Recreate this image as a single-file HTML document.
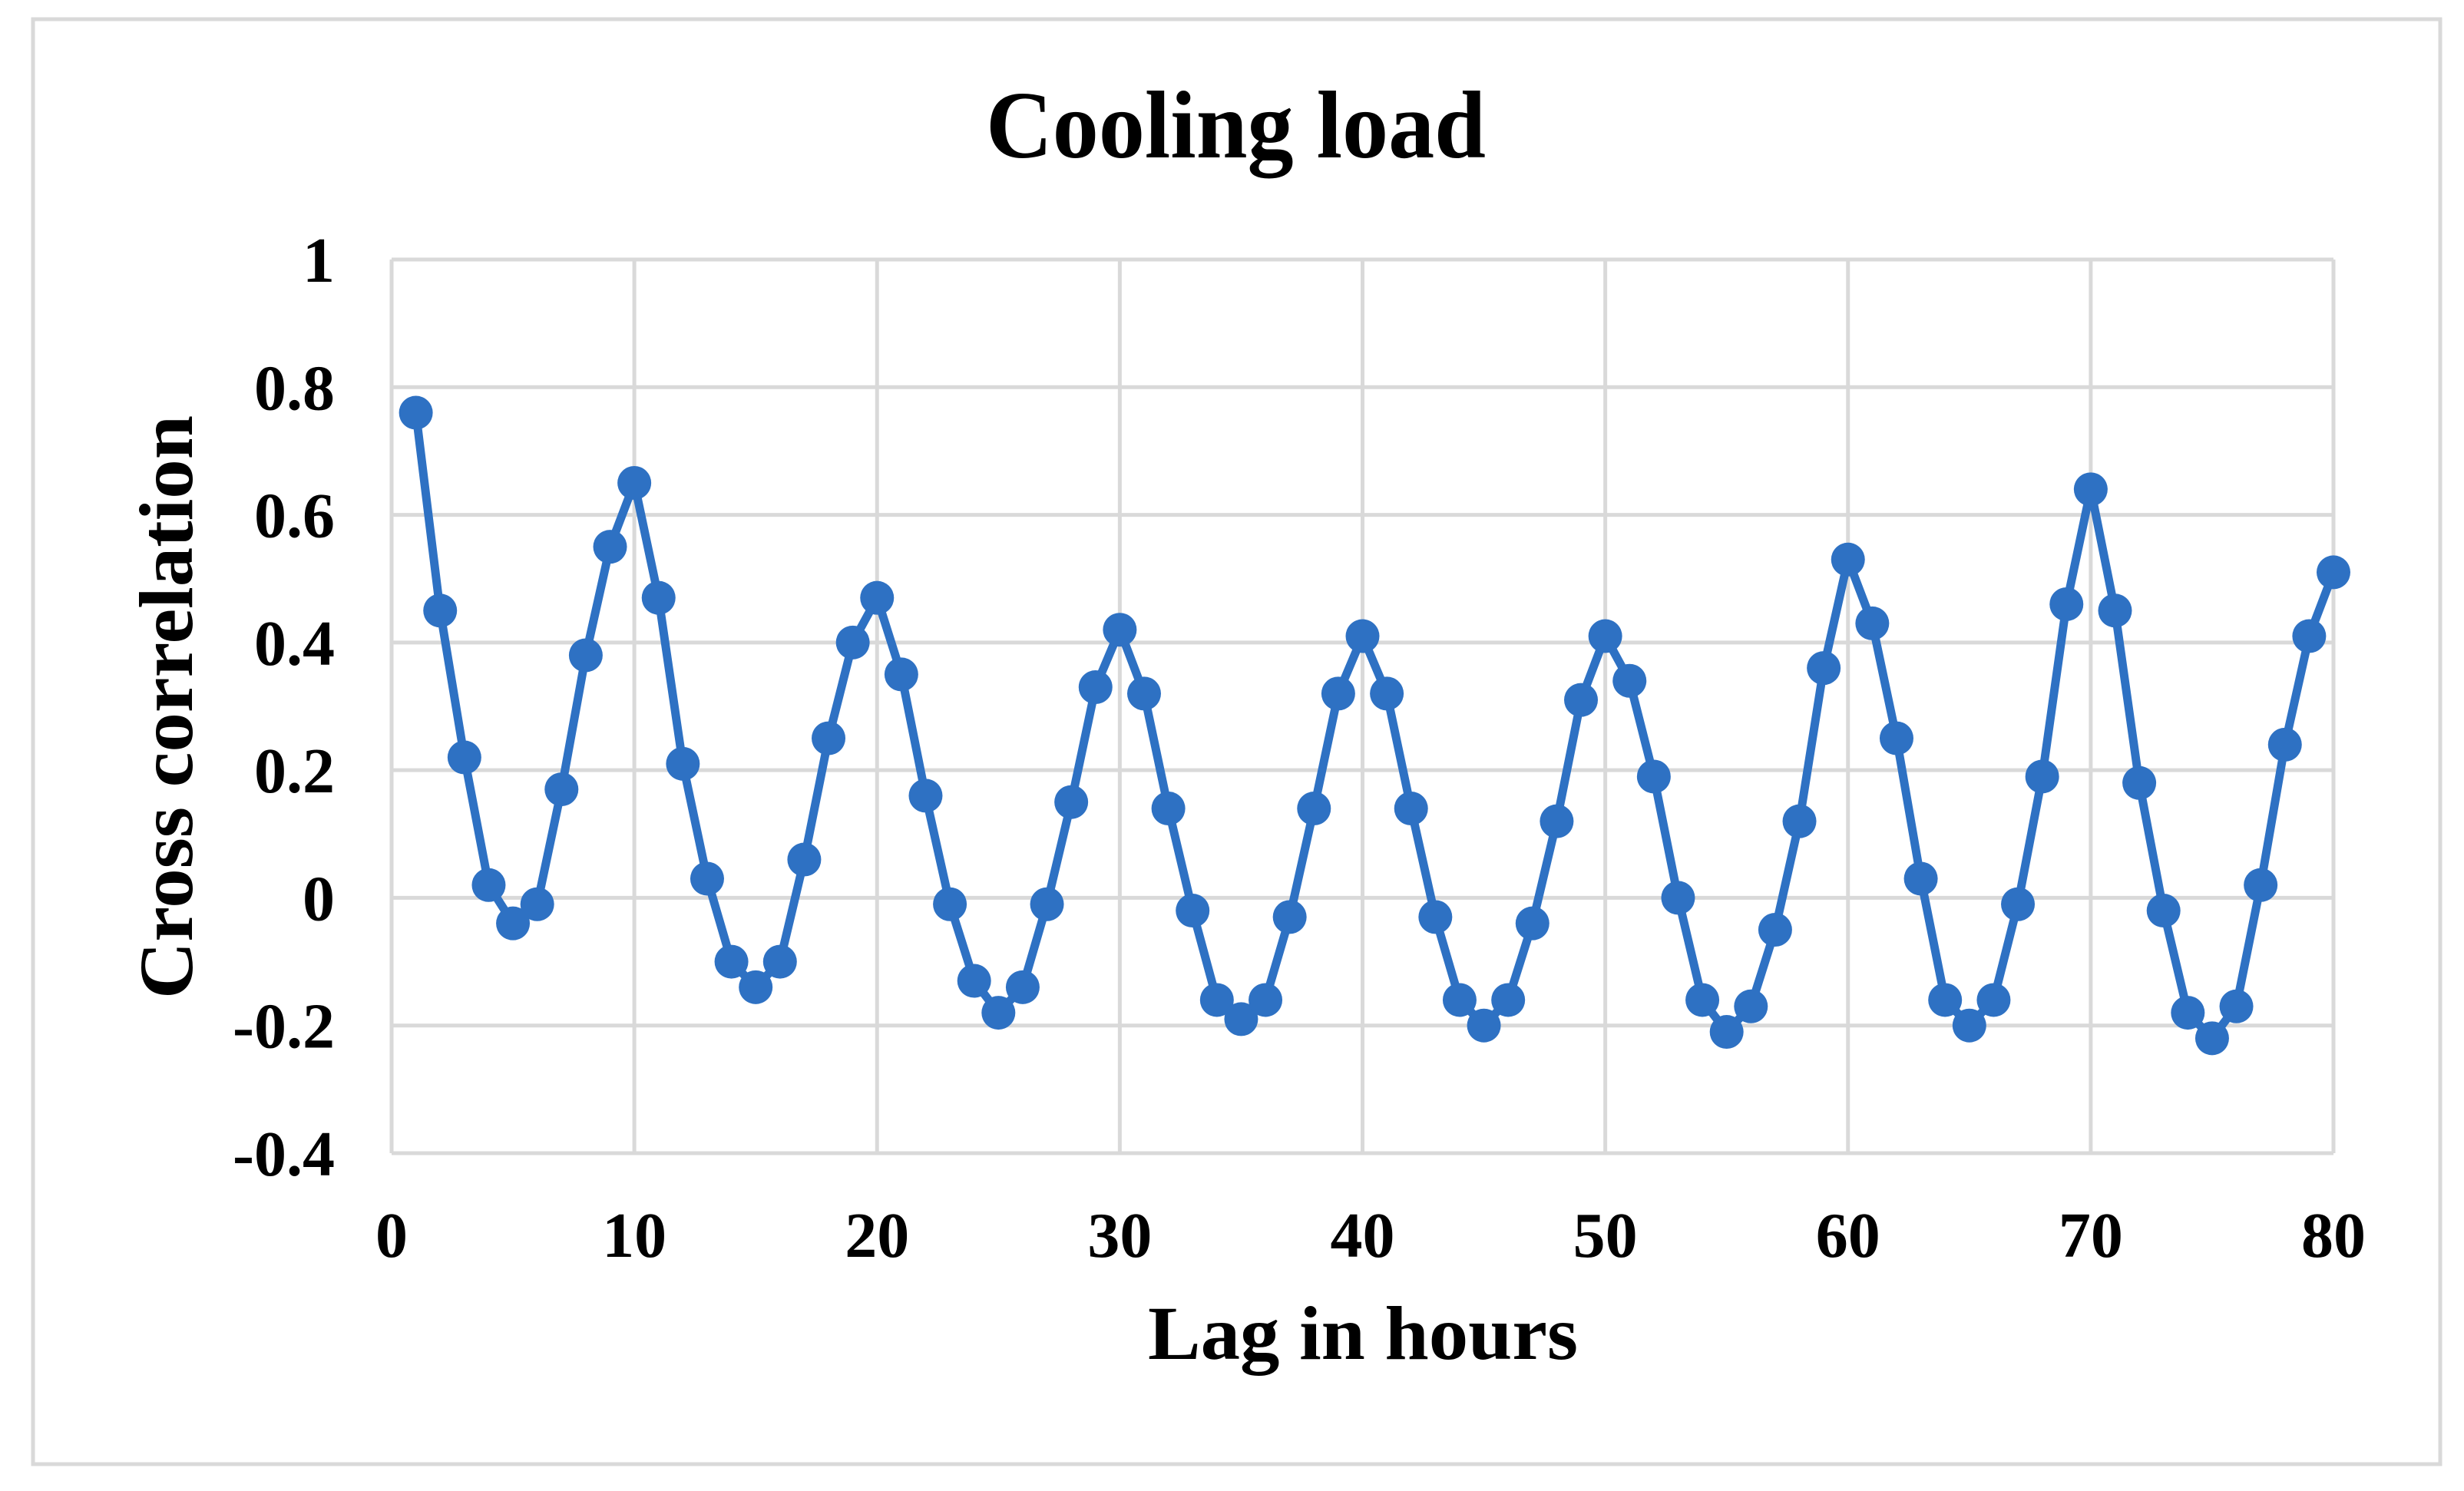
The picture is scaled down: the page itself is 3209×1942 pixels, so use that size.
<!DOCTYPE html>
<html><head><meta charset="utf-8"><style>
html,body{margin:0;padding:0;background:#fff;}
svg{display:block;}
text{font-family:"Liberation Serif","Times New Roman",serif;font-weight:bold;fill:#000;}
</style></head><body>
<svg id="chart" width="3209" height="1942" viewBox="0 0 3209 1942" xmlns="http://www.w3.org/2000/svg">
<rect x="43" y="25" width="3135" height="1882" fill="#fff" stroke="#d9d9d9" stroke-width="5"/>
<text x="1284" y="205" font-size="125" textLength="651" lengthAdjust="spacingAndGlyphs">Cooling load</text>
<g id="grid"></g>
<g id="yticks"></g>
<g id="xticks"></g>
<g id="series"></g>
<text x="1775" y="1770" font-size="100" text-anchor="middle" textLength="560" lengthAdjust="spacingAndGlyphs">Lag in hours</text>
<text transform="translate(250,921) rotate(-90)" x="0" y="0" font-size="100" text-anchor="middle" textLength="760" lengthAdjust="spacingAndGlyphs">Cross correlation</text>
</svg>
<script>
const lags = [1,2,3,4,5,6,7,8,9,10,11,12,13,14,15,16,17,18,19,20,21,22,23,24,25,26,27,28,29,30,31,32,33,34,35,36,37,38,39,40,41,42,43,44,45,46,47,48,49,50,51,52,53,54,55,56,57,58,59,60,61,62,63,64,65,66,67,68,69,70,71,72,73,74,75,76,77,78,79,80];
const values = [0.76,0.45,0.22,0.02,-0.04,-0.01,0.17,0.38,0.55,0.65,0.47,0.21,0.03,-0.10,-0.14,-0.10,0.06,0.25,0.40,0.47,0.35,0.16,-0.01,-0.13,-0.18,-0.14,-0.01,0.15,0.33,0.42,0.32,0.14,-0.02,-0.16,-0.19,-0.16,-0.03,0.14,0.32,0.41,0.32,0.14,-0.03,-0.16,-0.20,-0.16,-0.04,0.12,0.31,0.41,0.34,0.19,0.00,-0.16,-0.21,-0.17,-0.05,0.12,0.36,0.53,0.43,0.25,0.03,-0.16,-0.20,-0.16,-0.01,0.19,0.46,0.64,0.45,0.18,-0.02,-0.18,-0.22,-0.17,0.02,0.24,0.41,0.51];
const yTicks = [1,0.8,0.6,0.4,0.2,0,-0.2,-0.4];
const yTickLabels = ["1","0.8","0.6","0.4","0.2","0","-0.2","-0.4"];
const xTicks = [0,10,20,30,40,50,60,70,80];
const xTickLabels = ["0","10","20","30","40","50","60","70","80"];

const NS = "http://www.w3.org/2000/svg";
const L = 510, R = 3039, T = 338, B = 1502;
const xMin = 0, xMax = 80, yMin = -0.4, yMax = 1;
function xs(v){ return L + (v - xMin) / (xMax - xMin) * (R - L); }
function ys(v){ return B - (v - yMin) / (yMax - yMin) * (B - T); }
function mk(tag, attrs, parent){ const e = document.createElementNS(NS, tag); for (const k in attrs) e.setAttribute(k, attrs[k]); parent.appendChild(e); return e; }

const grid = document.getElementById('grid');
const yt = document.getElementById('yticks');
const xt = document.getElementById('xticks');
const ser = document.getElementById('series');

yTicks.forEach((v, i) => {
  const g = mk('line', {x1: L, x2: R, y1: ys(v), y2: ys(v), stroke: '#d9d9d9', 'stroke-width': 5}, grid);
  
  
  const t = mk('text', {x: 436, y: ys(v) + 29, 'font-size': 84, 'text-anchor': 'end'}, yt);
  t.textContent = yTickLabels[i];
  
  
});
xTicks.forEach((v, i) => {
  const g = mk('line', {x1: xs(v), x2: xs(v), y1: T, y2: B, stroke: '#d9d9d9', 'stroke-width': 5}, grid);
  
  
  const t = mk('text', {x: xs(v), y: 1637, 'font-size': 84, 'text-anchor': 'middle'}, xt);
  t.textContent = xTickLabels[i];
  
  
});

const pts = lags.map((l, i) => xs(l).toFixed(1) + ',' + ys(values[i]).toFixed(1)).join(' ');
const line = mk('polyline', {points: pts, fill: 'none', stroke: '#2e71c3', 'stroke-width': 11, 'stroke-linejoin': 'round'}, ser);


lags.forEach((l, i) => {
  const c = mk('circle', {cx: xs(l), cy: ys(values[i]), r: 22, fill: '#2e71c3'}, ser);
  
  
});
</script>
</body></html>
